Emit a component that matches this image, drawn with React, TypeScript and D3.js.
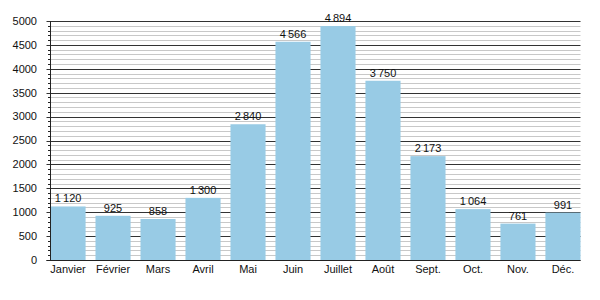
import React from "react";
import * as d3 from "d3";

const months = ["Janvier", "Février", "Mars", "Avril", "Mai", "Juin", "Juillet", "Août", "Sept.", "Oct.", "Nov.", "Déc."];
const values = [1120, 925, 858, 1300, 2840, 4566, 4894, 3750, 2173, 1064, 761, 991];
const majorTicks = [0, 500, 1000, 1500, 2000, 2500, 3000, 3500, 4000, 4500, 5000];
const minorTicks = d3.range(0, 5001, 100);

const W = 600, H = 300;
const left = 50.5, right = 580.5, top = 21, bottom = 260;
const font = "'Liberation Sans', Arial, sans-serif";

const fmt = (v: number) => {
  const s = String(v);
  return s.length > 3 ? s.slice(0, s.length - 3) + "\u2009" + s.slice(-3) : s;
};

export default function App() {
  const x = d3.scaleBand<string>().domain(months).range([left, right]).paddingInner(0.22).paddingOuter(0);
  const y = d3.scaleLinear().domain([0, 5000]).range([bottom, top]);
  return (
    <svg width={W} height={H} style={{ position: "absolute", left: 0, top: 0, display: "block" }} fontFamily={font}>
      <rect width={W} height={H} fill="#fff" />
      {minorTicks.filter((t) => t % 500 !== 0).map((t) => (
        <g key={"m" + t}>
          <line x1={left} x2={right} y1={Math.round(y(t)) + 0.5} y2={Math.round(y(t)) + 0.5} stroke="#c8c8c8" strokeWidth={1} />
          <line x1={left - 2.5} x2={left} y1={Math.round(y(t)) + 0.5} y2={Math.round(y(t)) + 0.5} stroke="#222" strokeWidth={1} />
        </g>
      ))}
      {majorTicks.map((t) => (
        <g key={"M" + t}>
          <line x1={left - 4} x2={right} y1={Math.round(y(t)) + 0.5} y2={Math.round(y(t)) + 0.5} stroke="#333" strokeWidth={1} />
          <text x={37} y={y(t)} dy="0.35em" textAnchor="end" fontSize={11} fill="#111">{t}</text>
        </g>
      ))}
      {values.map((v, i) => (
        <g key={months[i]}>
          <rect x={x(months[i])!} y={y(v)} width={x.bandwidth()} height={bottom - y(v)} fill="#98cbe5" />
          <text x={x(months[i])! + x.bandwidth() / 2} y={y(v) - 4} textAnchor="middle" fontSize={11} fill="#111">{fmt(v)}</text>
          <text x={x(months[i])! + x.bandwidth() / 2} y={273} textAnchor="middle" fontSize={11} fill="#111">{months[i]}</text>
        </g>
      ))}
      <line x1={left} x2={left} y1={top} y2={bottom + 0.5} stroke="#222" strokeWidth={1} />
      <line x1={left - 4} x2={right} y1={bottom + 0.5} y2={bottom + 0.5} stroke="#222" strokeWidth={1} />
    </svg>
  );
}
